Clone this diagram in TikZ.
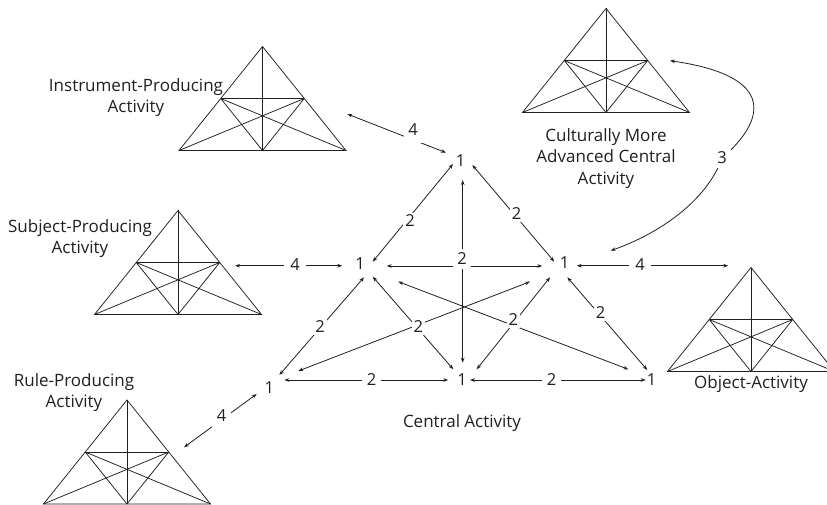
\documentclass[tikz,border=0pt]{standalone}
\usepackage{fontspec}
\setmainfont{Open Sans}
\usetikzlibrary{arrows.meta}
\definecolor{ink}{RGB}{35,31,32}
\tikzset{
  tri/.style={line width=0.75pt, draw=ink},
  arr/.style={line width=0.8pt, draw=ink, {Stealth[length=5pt,width=3.6pt]}-{Stealth[length=5pt,width=3.6pt]}},
  one/.style={font=\fontsize{16.5}{20}\selectfont, text=ink, inner sep=0pt},
  num/.style={font=\fontsize{16.5}{20}\selectfont, text=ink, fill=white, inner sep=2pt},
  lbl/.style={font=\fontsize{17}{21.5}\selectfont, text=ink, align=center, inner sep=0pt},
  acttri/.pic={
    \draw[tri] (0,0) -- (-83.5,104) -- (83.5,104) -- cycle;
    \draw[tri] (0,0) -- (0,104);
    \draw[tri] (-41.75,52) -- (41.75,52);
    \draw[tri] (-41.75,52) -- (83.5,104) (-41.75,52) -- (0,104);
    \draw[tri] (41.75,52) -- (-83.5,104) (41.75,52) -- (0,104);
  }
}
\begin{document}
\begin{tikzpicture}[x=1pt,y=-1pt]
\fill[white] (0,0) rectangle (827,505);
\useasboundingbox (0,0) rectangle (827,505);
\begin{scope}
\clip (0,0) rectangle (827,505);
\pic at (262.5,46.5) {acttri};
\pic at (606,8.5) {acttri};
\pic at (178,210.5) {acttri};
\pic at (751,267.5) {acttri};
\pic at (127,400) {acttri};
\end{scope}

% labels of the activities
\node[lbl] (instrL) at (136,97.5) {Instrument-Producing\\Activity};
\node[lbl] (subjL) at (80,238.5) {Subject-Producing\\Activity};
\node[lbl] (ruleL) at (74,392.5) {Rule-Producing\\Activity};
\node[lbl] (cultL) at (606,158.5) {Culturally More\\Advanced Central\\Activity};
\node[lbl, anchor=base] (objL) at (751,388.5) {Object-Activity};
\node[lbl] (centL) at (462,423) {Central Activity};

% central nodes
\node[one] (T) at (460.7,160.7) {1};
\node[one] (ML) at (360,263.3) {1};
\node[one] (MR) at (564.5,263) {1};
\node[one] (BL) at (269.3,387.3) {1};
\node[one] (BM) at (462,380) {1};
\node[one] (BR) at (651.7,380) {1};

% free ends at the surrounding activities
\coordinate (instrE) at (347.3,114);
\coordinate (subjE) at (235,265.7);
\coordinate (objE) at (728.3,265.7);
\coordinate (ruleE) at (184,447.3);
\coordinate (cultE) at (670,60.7);
\coordinate (c3) at (722,158);

% central connectors
\draw[arr] ([shift={(-7.7,3.3)}]T.center) -- ([shift={(12.7,-1.6)}]ML.center);
\draw[arr] ([shift={(11.6,4.3)}]T.center) -- ([shift={(-10.2,-1.3)}]MR.center);
\draw[arr] ([shift={(2,19.3)}]T.center) -- ([shift={(0.7,-17.3)}]BM.center);
\draw[arr] ([shift={(26.7,2.7)}]ML.center) -- ([shift={(-22.2,3)}]MR.center);
\draw[arr] ([shift={(4,14)}]ML.center) -- ([shift={(10,-12.3)}]BL.center);
\draw[arr] ([shift={(12.7,13.4)}]ML.center) -- ([shift={(-8.7,-10.7)}]BM.center);
\draw[arr] ([shift={(38.3,18.4)}]ML.center) -- ([shift={(-23.4,-10.7)}]BR.center);
\draw[arr] ([shift={(-34.5,18.7)}]MR.center) -- ([shift={(29,-16.3)}]BL.center);
\draw[arr] ([shift={(-14.5,14.3)}]MR.center) -- ([shift={(14.7,-10.7)}]BM.center);
\draw[arr] ([shift={(2.8,14.3)}]MR.center) -- ([shift={(-4.4,-10)}]BR.center);
\draw[arr] ([shift={(15,-7.3)}]BL.center) -- ([shift={(-13.7,0)}]BM.center);
\draw[arr] ([shift={(8,0)}]BM.center) -- ([shift={(-6,0)}]BR.center);

% outer connectors
\draw[arr] (instrE) -- ([shift={(-14.7,-8)}]T.center);
\draw[arr] (subjE) -- ([shift={(-17.7,2.4)}]ML.center);
\draw[arr] ([shift={(12.2,2.7)}]MR.center) -- (objE);
\draw[arr] (ruleE) -- ([shift={(-12.6,6.7)}]BL.center);
\draw[arr] (cultE) .. controls (790,78) and (755,130) .. (c3)
           .. controls (710,193) and (671,229) .. ([shift={(46.2,-12.3)}]MR.center);

% edge labels
\node[num] (l1) at (410,221) {2};
\node[num] (l2) at (516.7,214) {2};
\node[num, inner xsep=4.5pt, inner ysep=4pt] (l3) at (462,259) {2};
\node[num] (l4) at (320,326.7) {2};
\node[num] (l5) at (418.3,326.7) {2};
\node[num] (l6) at (513.3,320) {2};
\node[num] (l7) at (600.7,313) {2};
\node[num, inner xsep=5pt] (l8) at (371.7,380) {2};
\node[num, inner xsep=5pt] (l9) at (551.7,380) {2};
\node[num, inner xsep=4pt, inner ysep=7pt] (f1) at (413,130) {4};
\node[num, inner xsep=6pt] (f2) at (295,265) {4};
\node[num, inner xsep=6pt] (f3) at (640,265) {4};
\node[num, inner sep=5pt] (f4) at (221.7,416) {4};
\node[num, inner sep=4pt] (t3) at (722,158) {3};
\end{tikzpicture}
\end{document}
